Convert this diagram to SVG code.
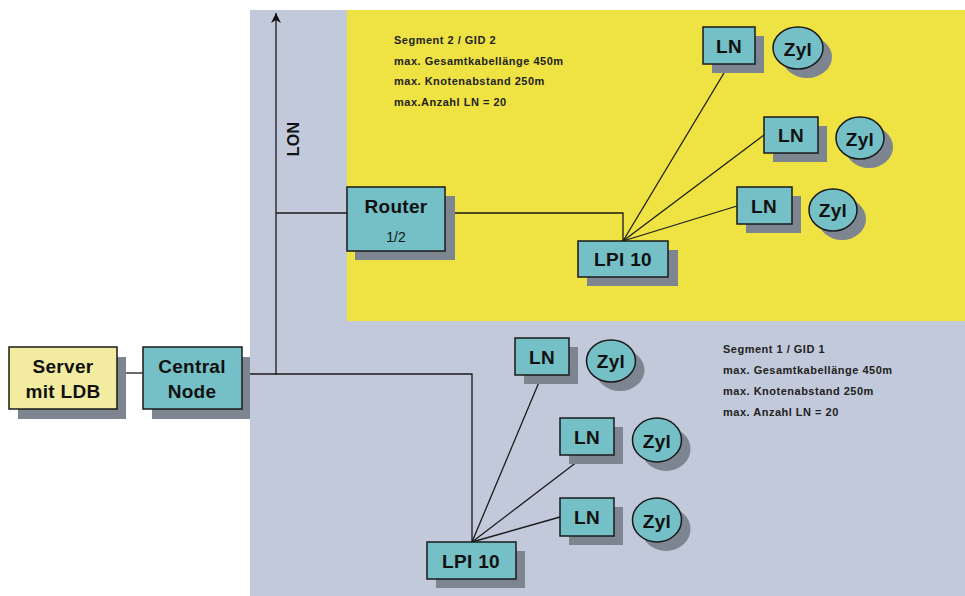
<svg xmlns="http://www.w3.org/2000/svg" width="965" height="596" viewBox="0 0 965 596">
<defs>
<style>
.box{fill:#74c0c6;stroke:#1a1a1a;stroke-width:1.5}
.srv{fill:#f2eba0;stroke:#1a1a1a;stroke-width:1.5}
.sh{fill:#7c8590}
.ln{stroke:#1a1a1a;stroke-width:1.3;fill:none}
.t{font-family:"Liberation Sans",Arial,sans-serif;font-weight:bold;font-size:19px;letter-spacing:0.3px;fill:#111;text-anchor:middle}
.info{font-family:"Liberation Sans",Arial,sans-serif;font-size:11px;letter-spacing:0.5px;font-weight:bold;fill:#222}
</style>
<marker id="arr" viewBox="0 0 10 10" refX="10" refY="5" markerWidth="10" markerHeight="10" markerUnits="userSpaceOnUse" orient="auto">
<path d="M0,0 L10,5 L0,10 L3,5 Z" fill="#111"/>
</marker>
</defs>
<rect width="965" height="596" fill="#ffffff"/>
<rect x="250" y="10" width="715" height="586" fill="#c1c9da"/>
<rect x="347" y="10" width="618" height="311" fill="#efe243"/>

<g id="connectors">
<line class="ln" x1="117" y1="373" x2="143" y2="373"/>
<line class="ln" x1="242" y1="374" x2="276" y2="374"/>
<line class="ln" x1="276" y1="375" x2="276" y2="13" marker-end="url(#arr)"/>
<line class="ln" x1="276" y1="213" x2="347" y2="213"/>
<polyline class="ln" points="445,213 623,213 623,241"/>
<line class="ln" x1="623" y1="241" x2="730" y2="63"/>
<line class="ln" x1="623" y1="241" x2="764" y2="135"/>
<line class="ln" x1="623" y1="241" x2="737" y2="206"/>
<polyline class="ln" points="276,374 472,374 472,542"/>
<line class="ln" x1="472" y1="542" x2="542" y2="375"/>
<line class="ln" x1="472" y1="542" x2="586" y2="455"/>
<line class="ln" x1="472" y1="542" x2="560" y2="517"/>
</g>

<text class="t" style="font-size:16px" transform="translate(299,139) rotate(-90)">LON</text>

<g id="server">
<rect class="sh" x="18" y="357" width="108" height="62"/>
<rect class="srv" x="9" y="347" width="108" height="62"/>
<text class="t" x="63" y="373">Server</text>
<text class="t" x="63" y="398">mit LDB</text>
</g>

<g id="central-node">
<rect class="sh" x="152" y="357" width="98" height="62"/>
<rect class="box" x="143" y="347" width="99" height="62"/>
<text class="t" x="192" y="373">Central</text>
<text class="t" x="192" y="398">Node</text>
</g>

<g id="router">
<rect class="sh" x="355" y="196" width="100" height="64"/>
<rect class="box" x="347" y="187" width="98" height="64"/>
<text class="t" x="396" y="213">Router</text>
<text x="396" y="242" font-family="Liberation Sans,Arial,sans-serif" font-size="14" fill="#111" text-anchor="middle">1/2</text>
</g>

<g id="lpi-top">
<rect class="sh" x="587" y="250" width="91" height="36"/>
<rect class="box" x="578" y="241" width="90" height="36"/>
<text class="t" x="623" y="266">LPI 10</text>
</g>

<g id="ln-2a">
<rect class="sh" x="712" y="36" width="52" height="37"/>
<rect class="box" x="703" y="27" width="52" height="37"/>
<text class="t" x="729" y="53">LN</text>
</g>
<g id="zyl-2a">
<ellipse class="sh" cx="807" cy="57" rx="25" ry="21"/>
<ellipse class="box" cx="798" cy="48" rx="25" ry="21"/>
<text class="t" x="798" y="56">Zyl</text>
</g>

<g id="ln-2b">
<rect class="sh" x="773" y="126" width="54" height="36"/>
<rect class="box" x="764" y="117" width="54" height="36"/>
<text class="t" x="791" y="142">LN</text>
</g>
<g id="zyl-2b">
<ellipse class="sh" cx="869" cy="147" rx="24" ry="21"/>
<ellipse class="box" cx="860" cy="138" rx="24" ry="21"/>
<text class="t" x="860" y="146">Zyl</text>
</g>

<g id="ln-2c">
<rect class="sh" x="746" y="196" width="55" height="37"/>
<rect class="box" x="737" y="187" width="55" height="37"/>
<text class="t" x="764" y="213">LN</text>
</g>
<g id="zyl-2c">
<ellipse class="sh" cx="842" cy="219" rx="24" ry="21"/>
<ellipse class="box" cx="833" cy="210" rx="24" ry="21"/>
<text class="t" x="833" y="217">Zyl</text>
</g>

<g id="lpi-bottom">
<rect class="sh" x="436" y="551" width="89" height="37"/>
<rect class="box" x="427" y="542" width="89" height="37"/>
<text class="t" x="471" y="568">LPI 10</text>
</g>

<g id="ln-1a">
<rect class="sh" x="524" y="347" width="54" height="37"/>
<rect class="box" x="515" y="338" width="54" height="37"/>
<text class="t" x="542" y="364">LN</text>
</g>
<g id="zyl-1a">
<ellipse class="sh" cx="620" cy="370" rx="24.5" ry="21"/>
<ellipse class="box" cx="611" cy="361" rx="24.5" ry="21"/>
<text class="t" x="611" y="368">Zyl</text>
</g>

<g id="ln-1b">
<rect class="sh" x="569" y="427" width="54" height="37"/>
<rect class="box" x="560" y="418" width="54" height="37"/>
<text class="t" x="587" y="444">LN</text>
</g>
<g id="zyl-1b">
<ellipse class="sh" cx="666" cy="449" rx="24.5" ry="22"/>
<ellipse class="box" cx="657" cy="440" rx="24.5" ry="22"/>
<text class="t" x="657" y="448">Zyl</text>
</g>

<g id="ln-1c">
<rect class="sh" x="569" y="507" width="54" height="38"/>
<rect class="box" x="560" y="498" width="54" height="38"/>
<text class="t" x="587" y="524">LN</text>
</g>
<g id="zyl-1c">
<ellipse class="sh" cx="666" cy="529" rx="24.5" ry="22"/>
<ellipse class="box" cx="657" cy="520" rx="24.5" ry="22"/>
<text class="t" x="657" y="528">Zyl</text>
</g>

<g id="segment2-info" class="info">
<text x="394" y="44">Segment 2 / GID 2</text>
<text x="394" y="65">max. Gesamtkabellänge 450m</text>
<text x="394" y="85">max. Knotenabstand 250m</text>
<text x="394" y="106">max.Anzahl LN = 20</text>
</g>

<g id="segment1-info" class="info">
<text x="723" y="353">Segment 1 / GID 1</text>
<text x="723" y="374">max. Gesamtkabellänge 450m</text>
<text x="723" y="395">max. Knotenabstand 250m</text>
<text x="723" y="416">max. Anzahl LN = 20</text>
</g>
</svg>
